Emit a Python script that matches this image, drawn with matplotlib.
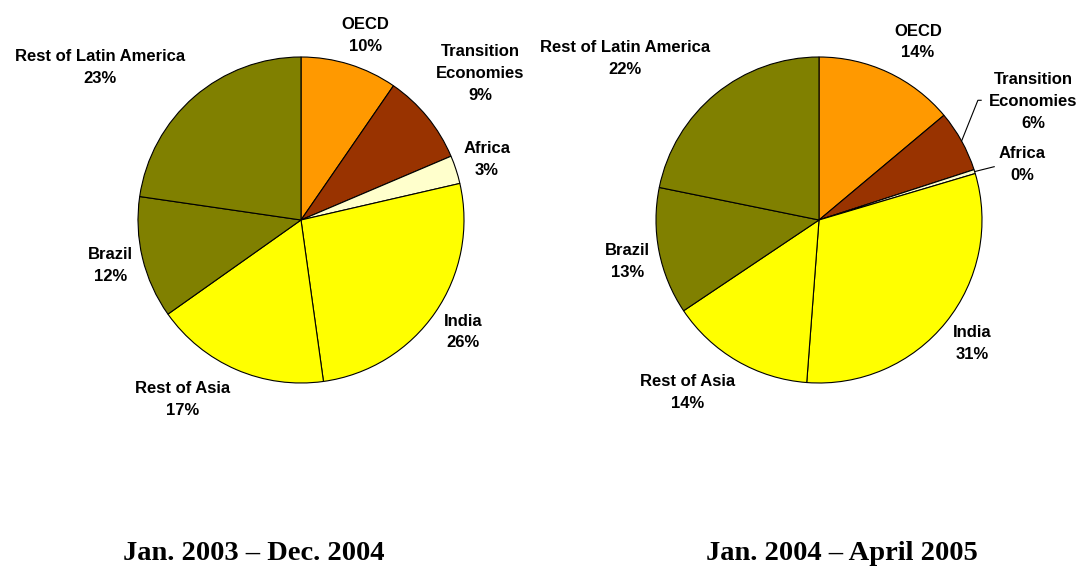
import matplotlib
matplotlib.use("Agg")
import matplotlib.pyplot as plt
import numpy as np

regions = ["OECD", "Transition\nEconomies", "Africa", "India", "Rest of Asia",
           "Brazil", "Rest of Latin America"]
colors = ["#FF9900", "#993300", "#FFFFCC", "#FFFF00", "#FFFF00", "#808000", "#808000"]

share_2003_2004 = [9.6, 9.0, 2.8, 26.4, 17.4, 12.1, 22.7]
share_2004_2005 = [13.9, 6.1, 0.4, 30.8, 14.4, 12.6, 21.8]

title_left = "Jan. 2003 \u2013 Dec. 2004"
title_right = "Jan. 2004 \u2013 April 2005"

# label placement: radial distance and angle shift (degrees, clockwise)
lab_left = [(1.2, 2), (1.42, 0), (1.2, 0), (1.21, 0), (1.32, 10), (1.2, 0), (1.55, -12)]
lab_right = [(1.25, 4), (1.5, 0), (1.29, 2), (1.21, 0), (1.33, 7), (1.2, -1), (1.55, -11)]
leaders_right = [1, 2]

fig = plt.figure(figsize=(10.76, 5.68), dpi=100)
W, H = 1076, 568
R = 163


def draw(cx, cy, vals, labpos, leaders, title, tx):
    w, h = 420 / W, 420 / H
    ax = fig.add_axes([cx / W - w / 2, 1 - cy / H - h / 2, w, h])
    lim = 210 / R
    wedges, _ = ax.pie(vals, colors=colors, startangle=90, counterclock=False,
                       wedgeprops=dict(edgecolor="black", linewidth=0.8))
    ax.set_xlim(-lim, lim)
    ax.set_ylim(-lim, lim)
    ax.set_aspect("equal")
    ax.axis("off")
    tot = sum(vals)
    cum = 0
    for i, v in enumerate(vals):
        mid = (cum + v / 2) / tot * 360
        cum += v
        d, sh = labpos[i]
        a = np.radians(mid + sh)
        x, y = d * np.sin(a), d * np.cos(a)
        ax.text(x, y, "%s\n%.0f%%" % (regions[i], v), ha="center", va="center",
                fontsize=12, fontweight="bold", family="Liberation Sans",
                linespacing=1.55)
        if i in leaders:
            a0 = np.radians(mid)
            ex, ey = np.sin(a0), np.cos(a0)
            if i == 1:
                pts = [(ex, ey), (ex + 0.1, ey + 0.25), (ex + 0.12, ey + 0.25)]
            else:
                pts = [(ex, ey), (ex + 0.12, ey + 0.03)]
            ax.plot([p[0] for p in pts], [p[1] for p in pts], color="black", lw=0.8)
    fig.text(tx / W, 1 - 553 / H, title, ha="center", va="center",
             fontsize=20.5, fontweight="bold", family="Liberation Serif")


draw(301, 220, share_2003_2004, lab_left, [], title_left, 254)
draw(819, 220, share_2004_2005, lab_right, leaders_right, title_right, 842)

fig.savefig("out.png", dpi=100)
